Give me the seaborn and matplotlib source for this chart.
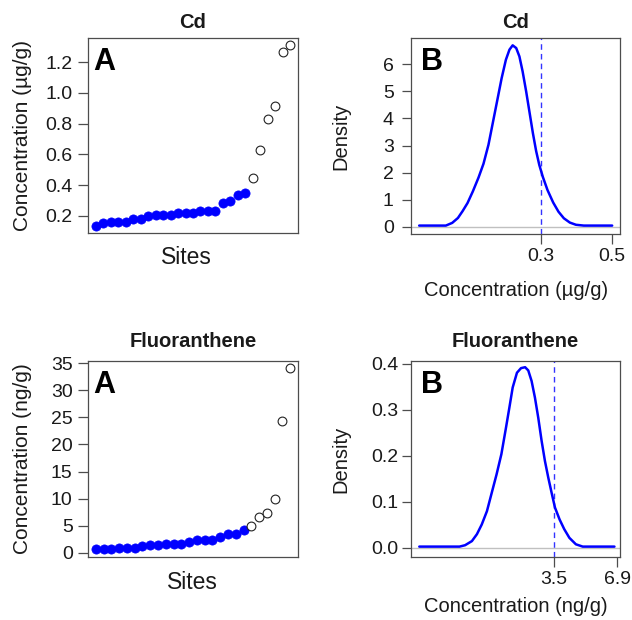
import numpy as np
import pandas as pd
import matplotlib
matplotlib.use("Agg")
import matplotlib.pyplot as plt
import seaborn as sns

# sorted site concentrations (kept = filled blue, dropped = open circles)
cd_kept = [0.133, 0.155, 0.158, 0.158, 0.158, 0.18, 0.18, 0.198, 0.205, 0.205, 0.205,
           0.222, 0.222, 0.222, 0.235, 0.235, 0.235, 0.284, 0.30, 0.338, 0.349]
cd_out = [0.447, 0.627, 0.832, 0.916, 1.265, 1.308]

fl_kept = [0.7, 0.7, 0.7, 0.9, 0.9, 1.0, 1.2, 1.5, 1.5, 1.7, 1.7, 1.7, 2.0, 2.3,
           2.3, 2.3, 2.9, 3.5, 3.5, 4.3]
fl_out = [4.9, 6.6, 7.4, 9.9, 24.4, 34.0]

# density curves
cd_x = [-0.043, 0.032, 0.050, 0.066, 0.079, 0.093, 0.108, 0.124, 0.138, 0.152, 0.165,
        0.178, 0.189, 0.201, 0.211, 0.220, 0.230, 0.239, 0.248, 0.258, 0.267, 0.277,
        0.286, 0.295, 0.305, 0.318, 0.334, 0.349, 0.364, 0.381, 0.398, 0.42, 0.50]
cd_dens = [0.05, 0.05, 0.15, 0.33, 0.58, 0.88, 1.31, 1.82, 2.33, 3.03, 3.89, 4.75, 5.48,
           6.16, 6.53, 6.69, 6.59, 6.28, 5.73, 4.99, 4.26, 3.45, 2.80, 2.28, 1.84, 1.36,
           0.90, 0.56, 0.32, 0.16, 0.08, 0.05, 0.05]

fl_x = [-3.77, -1.6, -1.3, -0.93, -0.66, -0.40, -0.12, 0.12, 0.40, 0.66, 0.91, 1.09,
        1.27, 1.50, 1.72, 1.94, 2.11, 2.29, 2.47, 2.65, 2.83, 3.01, 3.19, 3.37, 3.55,
        3.80, 4.05, 4.33, 4.68, 5.05, 5.4, 6.76]
fl_dens = [0.003, 0.003, 0.006, 0.015, 0.030, 0.051, 0.080, 0.117, 0.160, 0.204, 0.262,
           0.305, 0.349, 0.381, 0.391, 0.393, 0.386, 0.363, 0.327, 0.283, 0.233, 0.189,
           0.153, 0.120, 0.088, 0.062, 0.041, 0.022, 0.008, 0.003, 0.003, 0.003]

cd_cut = 0.3
fl_cut = 3.5
cd_xticks = [0.3, 0.5]
fl_xticks = [3.5, 6.9]

sns.set_theme(style="white")
plt.rcParams["font.family"] = ["Liberation Sans", "DejaVu Sans"]

FRAME = "#4d4d4d"
TXT = "#1a1a1a"

fig = plt.figure(figsize=(6.32, 6.2), dpi=100)
W, H = 632, 620


def box(l, t, r, b):
    return [l / W, 1 - b / H, (r - l) / W, (b - t) / H]


ax1 = fig.add_axes(box(88, 38, 298, 233))
ax2 = fig.add_axes(box(411, 38, 620, 234))
ax3 = fig.add_axes(box(88, 361, 298, 557))
ax4 = fig.add_axes(box(411, 361, 620, 557))


def style(ax):
    for s in ax.spines.values():
        s.set_color(FRAME)
        s.set_linewidth(0.9)
        s.set_visible(True)
    ax.tick_params(colors=FRAME, labelcolor=TXT, labelsize=14, width=0.9,
                   direction="out")


def sites_panel(ax, kept, out, ylim, yticks, ylab, title, tpad):
    df_k = pd.DataFrame({"site": np.arange(len(kept)), "conc": kept})
    df_o = pd.DataFrame({"site": np.arange(len(kept), len(kept) + len(out)), "conc": out})
    sns.scatterplot(data=df_k, x="site", y="conc", ax=ax, color="#0000ff", s=44,
                    edgecolor="#0000ff", linewidth=0.5, zorder=3)
    sns.scatterplot(data=df_o, x="site", y="conc", ax=ax, facecolor="white", s=40,
                    edgecolor="#222222", linewidth=0.8, zorder=3)
    n = len(kept) + len(out)
    ext = 0.04 * (n - 1)
    ax.set_xlim(-ext, n - 1 + ext)
    ax.set_ylim(*ylim)
    ax.set_xticks([])
    ax.set_yticks(yticks)
    style(ax)
    ax.tick_params(axis="y", left=True, length=7.5, pad=3.5)
    ax.set_xlabel("Sites", fontsize=16.5, color=TXT)
    ax.set_ylabel(ylab, fontsize=15, color=TXT)
    ax.set_title(title, fontsize=14.5, fontweight="bold", color=TXT, pad=tpad)
    ax.text(0.024, 0.955, "A", transform=ax.transAxes, ha="left", va="top",
            fontsize=22, fontweight="bold", color="black")


def density_panel(ax, xs, dens, cut, xlim, ylim, yticks, xticks, xlab, title, tpad, ypad):
    ax.axhline(0, color="#c0c0c0", lw=1.0, zorder=1)
    ax.axvline(cut, color="#3333ff", lw=1.0, ls=(0, (4, 3)), zorder=2)
    df = pd.DataFrame({"x": xs, "d": dens})
    sns.lineplot(data=df, x="x", y="d", ax=ax, color="#0000ff", lw=1.8,
                 estimator=None, sort=False, zorder=3, solid_joinstyle="round")
    ax.set_xlim(*xlim)
    ax.set_ylim(*ylim)
    ax.set_yticks(yticks)
    ax.set_xticks(xticks)
    ax.set_xticklabels([str(v) for v in xticks])
    style(ax)
    ax.tick_params(axis="y", left=True, length=6.5, pad=ypad)
    ax.tick_params(axis="x", bottom=True, length=7, pad=3)
    ax.set_xlabel(xlab, fontsize=14.5, color=TXT)
    ax.set_ylabel("Density", fontsize=14.5, color=TXT)
    ax.set_title(title, fontsize=14.5, fontweight="bold", color=TXT, pad=tpad)
    ax.text(0.048, 0.955, "B", transform=ax.transAxes, ha="left", va="top",
            fontsize=22, fontweight="bold", color="black")


sites_panel(ax1, cd_kept, cd_out, (0.089, 1.356), [0.2, 0.4, 0.6, 0.8, 1.0, 1.2],
            "Concentration (\u00b5g/g)", "Cd", 7)
sites_panel(ax3, fl_kept, fl_out, (-0.74, 35.37), [0, 5, 10, 15, 20, 25, 30, 35],
            "Concentration (ng/g)", "Fluoranthene", 10)

density_panel(ax2, cd_x, cd_dens, cd_cut, (-0.066, 0.522), (-0.26, 6.96),
              [0, 1, 2, 3, 4, 5, 6], cd_xticks, "Concentration (\u00b5g/g)", "Cd", 7, 6)
density_panel(ax4, fl_x, fl_dens, fl_cut, (-4.217, 7.06), (-0.0196, 0.4065),
              [0.0, 0.1, 0.2, 0.3, 0.4], fl_xticks, "Concentration (ng/g)",
              "Fluoranthene", 10, 2.5)
ax4.set_yticklabels(["0.0", "0.1", "0.2", "0.3", "0.4"])

# label placement
for ax, xc in [(ax1, 0.471), (ax3, 0.495)]:
    ax.xaxis.set_label_coords(xc, -0.128)
    ax.xaxis.label.set_va("center")
    ax.yaxis.set_label_coords(-0.31, 0.5)
    ax.yaxis.label.set_va("center")
for ax, yc in [(ax2, -0.286), (ax4, -0.252)]:
    ax.xaxis.set_label_coords(0.502, yc)
    ax.xaxis.label.set_va("center")
    ax.yaxis.set_label_coords(-0.335, 0.5)
    ax.yaxis.label.set_va("center")

fig.savefig("out.png", dpi=100, facecolor="white")
